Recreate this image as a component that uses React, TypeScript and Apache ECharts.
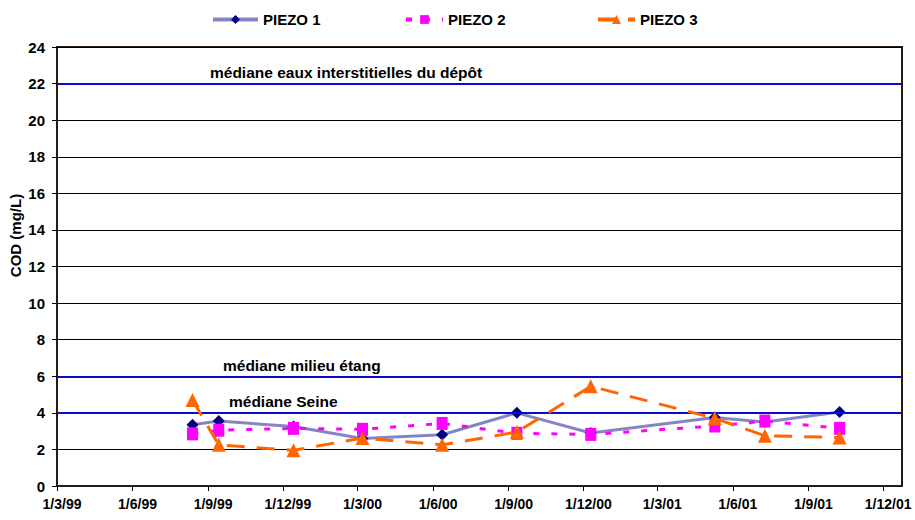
import React, { useEffect, useRef } from "react";
import * as echarts from "echarts";

const sampleDates = [
  "1999-08-13", "1999-09-14", "1999-12-14", "2000-03-07", "2000-06-12",
  "2000-09-11", "2000-12-10", "2001-05-10", "2001-07-10", "2001-10-09",
];
const piezo1 = [3.35, 3.55, 3.25, 2.6, 2.8, 4.0, 2.9, 3.75, 3.5, 4.05];
const piezo2 = [2.85, 3.05, 3.15, 3.1, 3.42, 2.88, 2.82, 3.28, 3.55, 3.15];
const piezo3 = [4.7, 2.25, 1.95, 2.62, 2.25, 2.95, 5.45, 3.7, 2.75, 2.65];

const xTickLabels = [
  "1/3/99", "1/6/99", "1/9/99", "1/12/99", "1/3/00", "1/6/00",
  "1/9/00", "1/12/00", "1/3/01", "1/6/01", "1/9/01", "1/12/01",
];
const xMin = "1999-03-01";
const xMax = "2001-12-24";

const refValues = [22, 6, 4];
const refLabels = [
  "médiane eaux interstitielles du dépôt",
  "médiane milieu étang",
  "médiane Seine",
];
const refLabelOffsets = [153, 166, 172];

const FONT = "'Liberation Sans', Arial, sans-serif";

const DAY = 86400000;
function isoUtc(s: string): number {
  const [y, m, d] = s.split("-").map((v) => parseInt(v, 10));
  return Date.UTC(y, m - 1, d);
}
function tickUtc(s: string): number {
  const [d, m, y] = s.split("/").map((v) => parseInt(v, 10));
  return Date.UTC(y > 50 ? 1900 + y : 2000 + y, m - 1, d);
}
const base = isoUtc(xMin);
const dayOf = (t: number) => Math.round((t - base) / DAY);

export default function App() {
  const ref = useRef<HTMLDivElement>(null);
  useEffect(() => {
    document.body.style.margin = "0";
    if (!ref.current) return;
    const chart = echarts.init(ref.current, undefined, { renderer: "svg" });
    const tickVals = xTickLabels.map((s) => dayOf(tickUtc(s)));
    const labelMap: Record<number, string> = {};
    tickVals.forEach((v, i) => (labelMap[v] = xTickLabels[i]));
    const mk = (vals: number[]) => sampleDates.map((d, i) => [dayOf(isoUtc(d)), vals[i]]);
    const legendText = { fontFamily: FONT, fontWeight: "bold", fontSize: 15, color: "#000" };
    const legendBase = {
      top: 12, padding: 0, itemHeight: 11, itemGap: 6,
      textStyle: legendText, lineStyle: { width: 4 },
    };
    chart.setOption({
      animation: false,
      grid: {
        left: 57, right: 13, top: 47, bottom: 34,
        containLabel: false,
        outerBoundsMode: "none",
        show: true, borderColor: "#2a1a10", borderWidth: 2,
      },
      legend: [
        { ...legendBase, data: ["PIEZO 1"], left: 211, itemWidth: 45 },
        { ...legendBase, data: ["PIEZO 2"], left: 404, itemWidth: 37 },
        { ...legendBase, data: ["PIEZO 3"], left: 596, itemWidth: 37 },
      ],
      xAxis: {
        type: "value",
        min: 0,
        max: dayOf(isoUtc(xMax)),
        axisLine: { show: true, onZero: false, lineStyle: { color: "#2a1a10", width: 2 } },
        axisTick: { show: true, length: 5, lineStyle: { color: "#000" }, customValues: tickVals },
        axisLabel: {
          customValues: tickVals,
          formatter: (v: number) => labelMap[v] ?? "",
          fontFamily: FONT, fontWeight: "bold", fontSize: 14, color: "#000", margin: 11,
          padding: [0, 0, 0, 10],
          hideOverlap: false,
        },
        splitLine: { show: false },
      },
      yAxis: {
        type: "value",
        min: 0, max: 24, interval: 2,
        name: "COD (mg/L)",
        nameLocation: "middle",
        nameGap: 34,
        nameMoveOverlap: false,
        nameTextStyle: { fontFamily: FONT, fontWeight: "bold", fontSize: 15, color: "#000", padding: [0, 0, 0, 62] },
        axisLine: { show: true, lineStyle: { color: "#2a1a10", width: 2 } },
        axisTick: { show: true, length: 5, lineStyle: { color: "#000" } },
        axisLabel: { fontFamily: FONT, fontWeight: "bold", fontSize: 15, color: "#000", margin: 12 },
        splitLine: { show: true, lineStyle: { color: "#000", width: 1 } },
      },
      series: [
        {
          name: "PIEZO 1",
          type: "line",
          data: mk(piezo1),
          symbol: "diamond",
          symbolSize: 12,
          itemStyle: { color: "#000080" },
          lineStyle: { color: "#8585c5", width: 3 },
          z: 3,
          markLine: {
            silent: true,
            symbol: ["none", "none"],
            lineStyle: { color: "#0a0acc", width: 2, type: "solid" },
            label: {
              position: "insideStartTop",
              fontFamily: FONT, fontWeight: "bold", fontSize: 15.5, color: "#000",
            },
            data: refValues.map((v, i) => ({
              yAxis: v,
              label: { formatter: refLabels[i], distance: [refLabelOffsets[i], 3] },
            })),
          },
        },
        {
          name: "PIEZO 2",
          type: "line",
          data: mk(piezo2),
          symbol: "rect",
          symbolSize: [11, 13],
          itemStyle: { color: "#ff00ff" },
          lineStyle: { color: "#ff00ff", width: 3, type: [6, 12] },
          z: 4,
        },
        {
          name: "PIEZO 3",
          type: "line",
          data: mk(piezo3),
          symbol: "triangle",
          symbolSize: 14,
          itemStyle: { color: "#ff6600" },
          lineStyle: { color: "#ff6600", width: 3, type: [18, 12] },
          z: 5,
        },
      ],
    });
    return () => chart.dispose();
  }, []);
  return <div ref={ref} style={{ width: 915, height: 520 }} />;
}
